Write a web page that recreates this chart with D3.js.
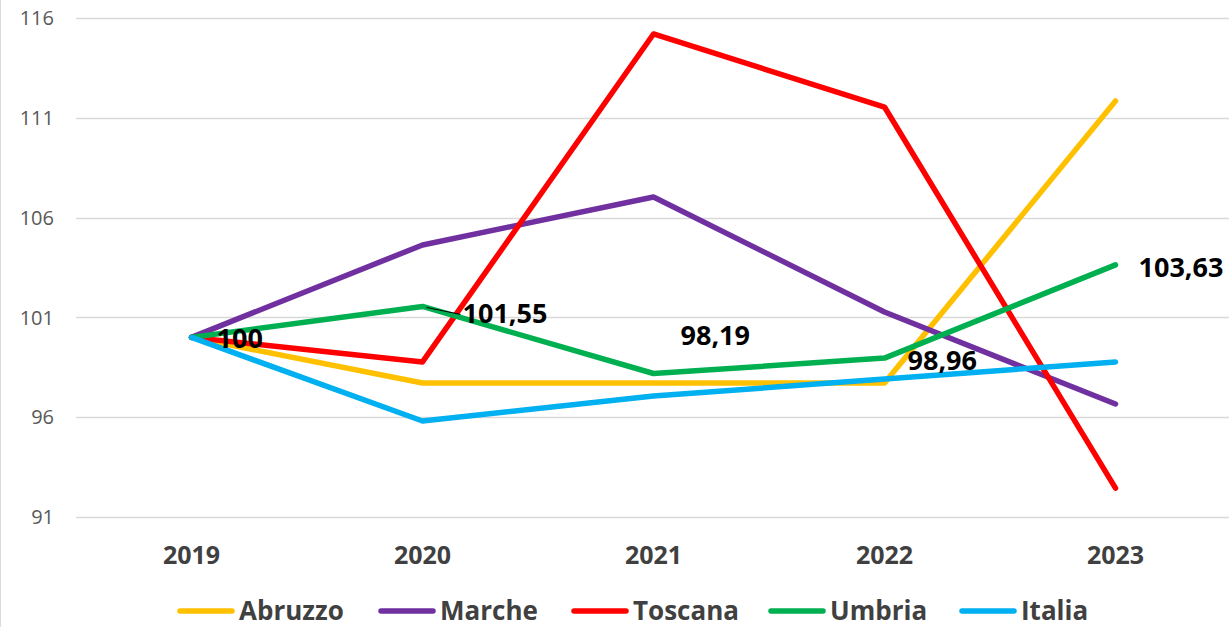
<!DOCTYPE html>
<meta charset="utf-8">
<body style="margin:0;background:#fff">
<script src="https://d3js.org/d3.v7.min.js"></script>
<div id="chart"></div>
<script>
    // data
    var years = ["2019", "2020", "2021", "2022", "2023"];
    var regions = ["Abruzzo", "Marche", "Toscana", "Umbria", "Italia"];
    var abruzzo = [100, 97.71, 97.71, 97.71, 111.84];
    var marche  = [100, 104.63, 107.03, 101.27, 96.66];
    var toscana = [100, 98.77, 115.2, 111.54, 92.45];
    var umbria  = [100, 101.55, 98.19, 98.96, 103.63];
    var italia  = [100, 95.81, 97.06, 97.91, 98.77];
    var yTicks = [91, 96, 101, 106, 111, 116];
    var umbriaLabels = ["100", "101,55", "98,19", "98,96", "103,63"];

    var colors = ["#FFC000", "#7030A0", "#FF0000", "#00B050", "#00B0F0"];
    var series = [abruzzo, marche, toscana, umbria, italia];

    var W = 1229, H = 627;
    var font = "'Open Sans', sans-serif";

    var svg = d3.select("#chart").append("svg")
        .attr("width", W).attr("height", H)
        .style("display", "block");

    // chart border (only left edge visible)
    svg.append("line")
        .attr("x1", 0.5).attr("x2", 0.5).attr("y1", 0).attr("y2", H)
        .attr("stroke", "#d9d9d9").attr("stroke-width", 1);

    var x = d3.scaleBand().domain(years).range([76, 1231]);
    var y = d3.scaleLinear().domain([91, 116]).range([517, 18]);
    var cx = function(d) { return x(d) + x.bandwidth() / 2; };

    // gridlines
    svg.append("g").selectAll("line")
        .data(yTicks).enter().append("line")
        .attr("x1", 76).attr("x2", W)
        .attr("y1", function(d) { return Math.round(y(d)) + 0.5; })
        .attr("y2", function(d) { return Math.round(y(d)) + 0.5; })
        .attr("stroke", "#d9d9d9").attr("stroke-width", 1.5);

    // y tick labels
    svg.append("g").selectAll("text")
        .data(yTicks).enter().append("text")
        .attr("x", 54)
        .attr("y", function(d) { return y(d); })
        .attr("dy", "0.36em")
        .attr("text-anchor", "end")
        .style("font-family", font).style("font-size", "20px")
        .attr("fill", "#595959")
        .text(function(d) { return d; });

    // x labels
    svg.append("g").selectAll("text")
        .data(years).enter().append("text")
        .attr("x", cx)
        .attr("y", 564)
        .attr("text-anchor", "middle")
        .style("font-family", font).style("font-size", "25px").style("font-weight", "bold")
        .attr("fill", "#404040")
        .text(function(d) { return d; });

    // lines
    var line = d3.line()
        .x(function(d, i) { return cx(years[i]); })
        .y(function(d) { return y(d); });

    svg.append("g").selectAll("path")
        .data(series).enter().append("path")
        .attr("d", line)
        .attr("fill", "none")
        .attr("stroke", function(d, i) { return colors[i]; })
        .attr("stroke-width", 5.5)
        .attr("stroke-linecap", "round")
        .attr("stroke-linejoin", "round");

    // Umbria data labels (offsets are to the text baseline)
    var labelOffsets = [[25, 11], [40, 17], [27, -28], [23, 12], [23, 12]];

    // leader line for 2020 label
    svg.append("line")
        .attr("x1", cx("2020") + 4).attr("y1", y(umbria[1]) + 1)
        .attr("x2", cx("2020") + 38).attr("y2", y(umbria[1]) + 8)
        .attr("stroke", "#000").attr("stroke-width", 1);

    svg.append("g").selectAll("text")
        .data(umbriaLabels).enter().append("text")
        .attr("x", function(d, i) { return cx(years[i]) + labelOffsets[i][0]; })
        .attr("y", function(d, i) { return y(umbria[i]) + labelOffsets[i][1]; })
        .style("font-family", font).style("font-size", "27px").style("font-weight", "bold")
        .attr("fill", "#000")
        .text(function(d) { return d; });

    // legend
    var legX = [180, 381, 574, 771, 962];
    var leg = svg.append("g").selectAll("g")
        .data(regions).enter().append("g")
        .attr("transform", function(d, i) { return "translate(" + legX[i] + ",0)"; });
    leg.append("line")
        .attr("x1", 0).attr("x2", 52).attr("y1", 611).attr("y2", 611)
        .attr("stroke", function(d, i) { return colors[i]; })
        .attr("stroke-width", 5.5).attr("stroke-linecap", "round");
    leg.append("text")
        .attr("x", 59).attr("y", 620)
        .style("font-family", font).style("font-size", "26px").style("font-weight", "bold")
        .attr("fill", "#404040")
        .text(function(d) { return d; });
</script>
</body>
